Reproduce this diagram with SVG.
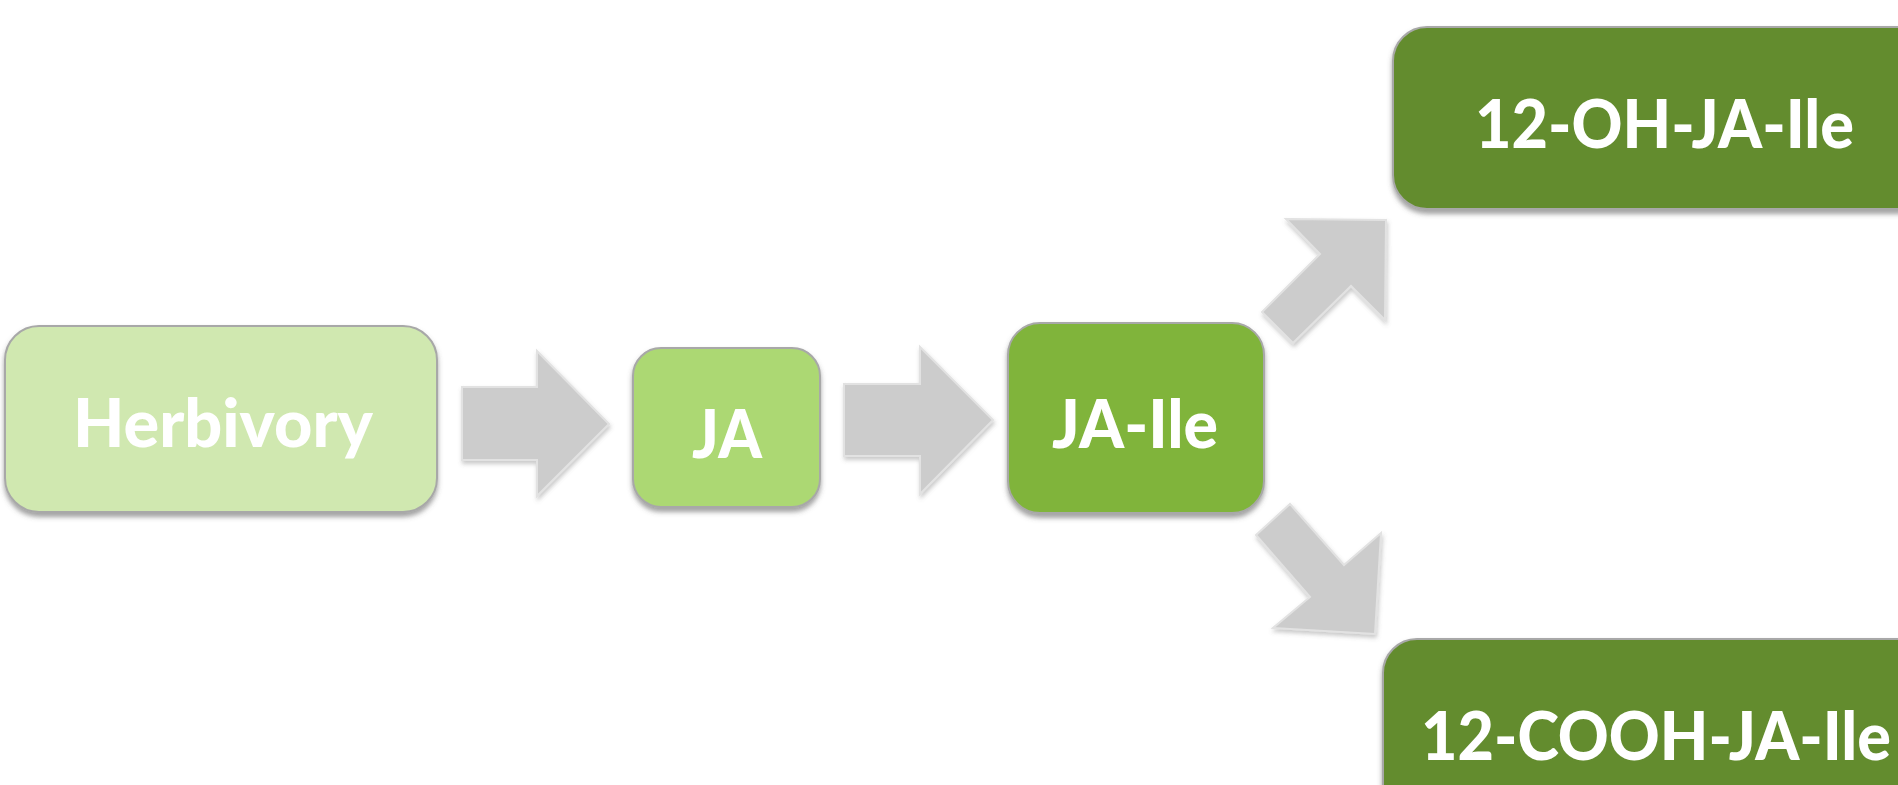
<svg xmlns="http://www.w3.org/2000/svg" width="1898" height="785" viewBox="0 0 1898 785">
  <style>
    .box { stroke: #a8a8a8; stroke-width: 2; filter: url(#shadow); }
    .arrow { fill: #cccccc; stroke: #e2e2e2; stroke-width: 2; stroke-linejoin: miter; filter: url(#ashadow); }
    .label { font-family: "Lato", "Liberation Sans", sans-serif; font-weight: 900; fill: #ffffff; text-anchor: start; }
  </style>
  <defs>
    <filter id="shadow" x="-10%" y="-10%" width="120%" height="130%">
      <feGaussianBlur in="SourceAlpha" stdDeviation="2.5"/>
      <feOffset dx="0" dy="4" result="b"/>
      <feFlood flood-color="#555555" flood-opacity="0.55"/>
      <feComposite in2="b" operator="in" result="s"/>
      <feMerge><feMergeNode in="s"/><feMergeNode in="SourceGraphic"/></feMerge>
    </filter>
    <filter id="ashadow" x="-10%" y="-10%" width="130%" height="130%">
      <feGaussianBlur in="SourceAlpha" stdDeviation="2"/>
      <feOffset dx="1" dy="3" result="b"/>
      <feFlood flood-color="#666666" flood-opacity="0.35"/>
      <feComposite in2="b" operator="in" result="s"/>
      <feMerge><feMergeNode in="s"/><feMergeNode in="SourceGraphic"/></feMerge>
    </filter>
  </defs>
  <rect width="1898" height="785" fill="#ffffff"/>

  <g id="connectors">
    <polygon class="arrow" points="462,387 537,387 537,351 609,424 537,496 537,460 462,460"/>
    <polygon class="arrow" points="844,384 920,384 920,347 993,420 920,494 920,456 844,456"/>
    <polygon class="arrow" points="1286,219 1386,220 1385,320 1351,286 1293,343 1262,312 1320,254"/>
    <polygon class="arrow" points="1256,535 1290,504 1344,565 1381,533 1375,634 1273,628 1310,597"/>
  </g>

  <g id="herbivory">
    <rect class="box" x="5" y="326" width="432" height="186" rx="34" fill="#d0e8b0"/>
    <text class="label" x="73" y="447" font-size="66" textLength="300" lengthAdjust="spacingAndGlyphs">Herbivory</text>
  </g>

  <g id="ja">
    <rect class="box" x="633" y="348" width="187" height="159" rx="28" fill="#acd873"/>
    <text class="label" x="692" y="458" font-size="66" textLength="70" lengthAdjust="spacingAndGlyphs">JA</text>
  </g>

  <g id="ja-ile">
    <rect class="box" x="1008" y="323" width="256" height="190" rx="32" fill="#80b43b"/>
    <text class="label" x="1052" y="448" font-size="66" textLength="166" lengthAdjust="spacingAndGlyphs">JA-Ile</text>
  </g>

  <g id="oh-ja-ile">
    <rect class="box" x="1393" y="27" width="540" height="182" rx="34" fill="#648c2e"/>
    <text class="label" x="1475" y="148" font-size="67" textLength="379" lengthAdjust="spacingAndGlyphs">12-OH-JA-Ile</text>
  </g>

  <g id="cooh-ja-ile">
    <rect class="box" x="1383" y="639" width="550" height="200" rx="34" fill="#648c2e"/>
    <text class="label" x="1421" y="760" font-size="67" textLength="470" lengthAdjust="spacingAndGlyphs">12-COOH-JA-Ile</text>
  </g>
</svg>
